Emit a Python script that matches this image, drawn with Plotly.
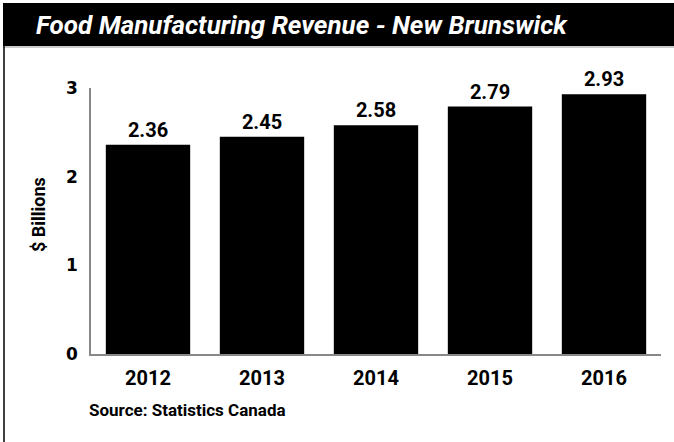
import plotly.graph_objects as go

years = ["2012", "2013", "2014", "2015", "2016"]
revenue = [2.36, 2.45, 2.58, 2.79, 2.93]
y_ticks = [0, 1, 2, 3]

W, H = 674, 442
L, R, T, B = 91, 13, 88, 88
pw, ph = W - L - R, H - T - B

def px(x):
    return (x - L) / pw

def py(y):
    return (H - B - y) / ph

narrow = "Roboto, sans-serif"

fig = go.Figure(go.Bar(
    x=years, y=revenue,
    marker=dict(color="black", line=dict(width=0)),
    text=[f"{v:.2f}" for v in revenue],
    textposition="outside",
    textfont=dict(family=narrow, size=20, color="black", weight="bold"),
    cliponaxis=False,
))

fig.update_layout(
    width=W, height=H,
    margin=dict(l=L, r=R, t=T, b=B, pad=0),
    paper_bgcolor="white", plot_bgcolor="white",
    bargap=0.26,
    showlegend=False,
    xaxis=dict(showline=True, linecolor="#888", linewidth=1.5, ticks="",
               tickfont=dict(family=narrow, size=20, color="black", weight="bold"),
               showgrid=False, ticklabelstandoff=5),
    yaxis=dict(range=[0, 3], tickvals=y_ticks, showline=True, linecolor="#888",
               linewidth=1.5, ticks="", showgrid=False, zeroline=False,
               tickfont=dict(family="DejaVu Sans, Verdana, sans-serif", size=17,
                             color="black", weight="bold"),
               ticklabelstandoff=8),
    shapes=[
        dict(type="rect", xref="paper", yref="paper", x0=px(3), x1=px(676),
             y0=py(3), y1=py(46), fillcolor="black", line=dict(width=0), layer="above"),
        dict(type="line", xref="paper", yref="paper", x0=px(3), x1=px(676),
             y0=py(47), y1=py(47), line=dict(color="#999", width=1)),
        dict(type="line", xref="paper", yref="paper", x0=px(4), x1=px(4),
             y0=py(46), y1=py(445), line=dict(color="black", width=1.5)),
    ],
    annotations=[
        dict(text="Food Manufacturing Revenue - New Brunswick", xref="paper", yref="paper",
             x=px(34), y=py(25), xanchor="left", yanchor="middle", showarrow=False,
             font=dict(family=narrow, size=26, color="white", weight="bold", style="italic")),
        dict(text="$ Billions", xref="paper", yref="paper", x=px(38), y=py(215),
             xanchor="center", yanchor="middle", textangle=-90, showarrow=False,
             font=dict(family=narrow, size=18, color="black", weight="bold")),
        dict(text="Source: Statistics Canada", xref="paper", yref="paper",
             x=px(87), y=py(410), xanchor="left", yanchor="middle", showarrow=False,
             font=dict(family=narrow, size=17, color="black", weight="bold")),
    ],
)

fig.write_html("out.html", config={"displayModeBar": False},
               post_script="document.body.style.margin='0';document.body.style.overflow='hidden';")
